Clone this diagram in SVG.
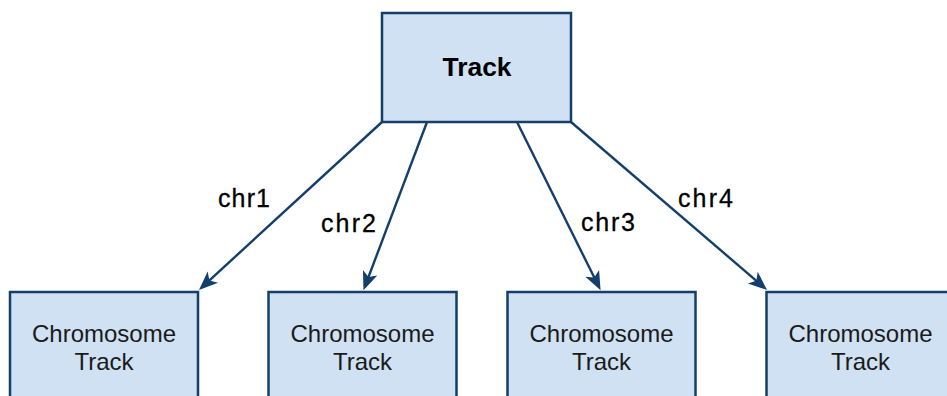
<svg xmlns="http://www.w3.org/2000/svg" width="947" height="396" viewBox="0 0 947 396">
<style>
.box{fill:#cfe1f2;stroke:#153f6b;stroke-width:2.5}
.edge{fill:none;stroke:#153f6b;stroke-width:2.4}
.nt{font-family:"Liberation Sans",Arial,sans-serif;font-size:24px;fill:#1a1a1a;text-anchor:middle}
.tt{font-family:"Liberation Sans",Arial,sans-serif;font-size:26px;font-weight:bold;fill:#000;text-anchor:middle}
.lbl{font-family:"Liberation Sans",Arial,sans-serif;font-size:25px;fill:#000;stroke:#000;stroke-width:0.3}
</style>
<defs>
<marker id="ah" markerUnits="userSpaceOnUse" markerWidth="20" markerHeight="20" viewBox="0 -8 17 16" refX="8" refY="0" orient="auto">
<path d="M16,0 L0,-6.5 L4,0 L0,6.5 Z" fill="#153f6b"/>
</marker>
</defs>
<rect width="947" height="396" fill="#fff"/>
<g id="connectors">
<g id="e1"><line class="edge" x1="382" y1="122" x2="205.9" y2="283.6" marker-end="url(#ah)"/><text class="lbl" x="218" y="207" textLength="52" lengthAdjust="spacing">chr1</text></g>
<g id="e2"><line class="edge" x1="427" y1="122" x2="366.8" y2="281.5" marker-end="url(#ah)"/><text class="lbl" x="321" y="231.5" textLength="55" lengthAdjust="spacing">chr2</text></g>
<g id="e3"><line class="edge" x1="517" y1="122" x2="596.4" y2="281.8" marker-end="url(#ah)"/><text class="lbl" x="581" y="231" textLength="54" lengthAdjust="spacing">chr3</text></g>
<g id="e4"><line class="edge" x1="571" y1="122" x2="759.9" y2="283.8" marker-end="url(#ah)"/><text class="lbl" x="678" y="207" textLength="55" lengthAdjust="spacing">chr4</text></g>
</g>
<g id="track">
<rect class="box" x="382" y="13" width="189" height="109"/>
<text class="tt" x="477" y="76" textLength="69" lengthAdjust="spacingAndGlyphs">Track</text>
</g>
<g id="chrom1">
<rect class="box" x="10" y="292" width="188" height="130"/>
<text class="nt" x="104" y="342">Chromosome</text>
<text class="nt" x="104" y="369.5">Track</text>
</g>
<g id="chrom2">
<rect class="box" x="268.5" y="292" width="188" height="130"/>
<text class="nt" x="362.5" y="342">Chromosome</text>
<text class="nt" x="362.5" y="369.5">Track</text>
</g>
<g id="chrom3">
<rect class="box" x="507.5" y="292" width="188" height="130"/>
<text class="nt" x="601.5" y="342">Chromosome</text>
<text class="nt" x="601.5" y="369.5">Track</text>
</g>
<g id="chrom4">
<rect class="box" x="766.5" y="292" width="188" height="130"/>
<text class="nt" x="860.5" y="342">Chromosome</text>
<text class="nt" x="860.5" y="369.5">Track</text>
</g>
</svg>
